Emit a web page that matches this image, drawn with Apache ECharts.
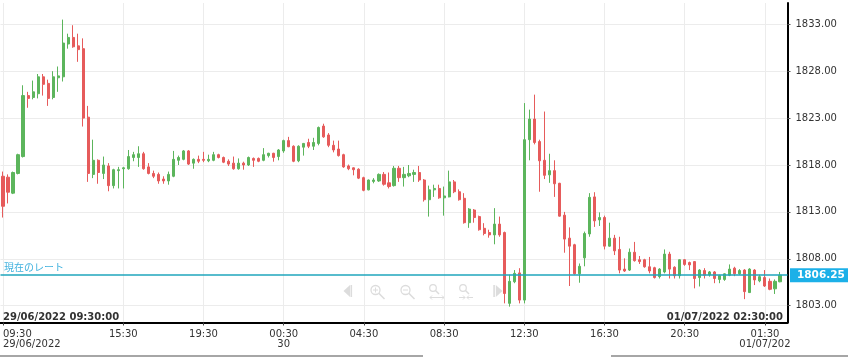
<!DOCTYPE html>
<html><head><meta charset="utf-8">
<script src="https://cdn.jsdelivr.net/npm/echarts@6/dist/echarts.min.js"></script>
<style>html,body{margin:0;padding:0;background:#fff;overflow:hidden}#c{width:848px;height:357px}</style>
</head><body><div id="c"></div>
<script>
// ---- data (15-minute candles, XAU) ----
const opens = [1816.8,1816.7,1815.0,1817.1,1818.9,1825.4,1825.2,1825.6,1827.4,1826.7,1825.2,1827.3,1827.4,1830.9,1831.6,1830.7,1830.4,1823.1,1817.0,1818.5,
1817.1,1817.9,1815.8,1817.4,1817.6,1817.6,1818.8,1818.8,1819.2,1817.8,1817.1,1817.0,1816.5,1816.3,1816.8,1818.5,1818.6,1819.5,1818.2,1818.6,
1818.6,1818.45,1818.5,1819.1,1818.8,1818.4,1818.2,1817.6,1818.2,1818.0,1818.7,1818.7,1818.5,1819.0,1819.25,1818.9,1819.5,1820.6,1820.0,1818.45,
1819.9,1820.4,1820.0,1820.3,1822.15,1821.2,1820.1,1819.7,1819.1,1817.9,1817.7,1817.55,1816.65,1815.35,1816.25,1816.3,1817.0,1816.1,1815.8,1817.65,
1816.65,1816.85,1817.0,1817.2,1816.4,1814.3,1815.35,1815.5,1814.5,1814.6,1816.2,1815.15,1814.45,1811.85,1813.2,1812.5,1811.25,1810.8,1810.55,1811.7,
1810.8,1803.25,1805.55,1806.5,1803.6,1820.7,1822.9,1820.5,1818.5,1816.95,1817.4,1816.05,1812.65,1810.2,1809.5,1806.4,1808.1,1810.65,1814.6,1812.15,
1812.4,1809.35,1810.2,1809.0,1806.9,1806.8,1808.7,1807.9,1807.9,1807.15,1807.05,1806.1,1806.6,1808.5,1807.1,1806.2,1807.9,1807.6,1807.7,1806.0,
1806.75,1806.3,1806.6,1805.8,1805.8,1806.25,1807.0,1806.4,1806.8,1804.4,1806.8,1805.65,1806.0,1805.6,1804.8,1805.55];
const highs = [1817.3,1817.0,1817.3,1819.2,1826.5,1825.8,1827.0,1827.7,1827.7,1827.1,1828.0,1828.5,1833.5,1832.0,1832.9,1832.0,1831.5,1824.3,1820.7,1818.6,
1818.9,1818.2,1817.6,1817.8,1817.8,1819.6,1819.4,1820.0,1819.4,1818.2,1817.4,1817.2,1816.8,1817.3,1819.5,1819.0,1819.6,1819.6,1818.7,1819.0,
1819.4,1819.1,1819.4,1819.2,1818.9,1818.6,1818.9,1818.7,1818.35,1818.9,1818.8,1818.8,1819.8,1819.3,1819.3,1819.7,1820.7,1821.0,1820.1,1820.1,
1820.35,1820.8,1820.9,1822.1,1822.4,1821.4,1820.6,1820.6,1819.2,1818.05,1817.75,1817.65,1816.75,1816.45,1816.6,1817.1,1817.25,1817.2,1817.9,1817.9,
1817.8,1818.0,1817.5,1817.9,1816.5,1815.8,1815.9,1815.9,1815.7,1817.4,1816.4,1815.4,1815.0,1813.4,1813.3,1812.6,1811.8,1811.1,1813.4,1812.5,
1810.9,1806.3,1806.8,1807.0,1824.6,1823.9,1825.5,1820.7,1823.7,1819.2,1818.5,1816.1,1813.0,1811.35,1809.6,1807.5,1810.9,1815.0,1815.1,1812.95,
1812.6,1811.85,1810.55,1810.35,1808.05,1809.1,1809.8,1808.3,1808.0,1808.2,1807.15,1807.0,1809.0,1808.75,1807.2,1807.95,1807.95,1807.7,1807.75,1806.9,
1807.0,1806.7,1806.7,1806.3,1806.45,1807.4,1807.15,1806.9,1806.9,1807.0,1806.9,1806.3,1806.8,1805.9,1805.8,1806.6];
const lows = [1812.4,1813.9,1814.9,1817.0,1818.8,1824.1,1825.0,1825.1,1825.4,1824.3,1825.0,1825.8,1826.9,1830.4,1830.5,1829.0,1822.1,1816.2,1816.6,1816.0,
1816.5,1815.2,1815.5,1815.5,1815.5,1817.5,1818.4,1817.8,1817.5,1817.0,1816.6,1816.0,1816.0,1815.9,1816.7,1818.0,1818.5,1818.0,1817.6,1818.2,
1818.3,1818.3,1818.4,1818.7,1818.2,1817.9,1817.5,1817.5,1817.5,1817.9,1817.8,1818.3,1818.4,1818.8,1818.35,1818.5,1819.3,1819.9,1818.3,1818.3,
1819.0,1819.8,1819.6,1820.1,1820.9,1819.9,1819.35,1818.9,1817.7,1817.45,1816.9,1816.5,1815.2,1815.3,1816.05,1816.2,1815.8,1815.5,1815.7,1816.2,
1815.7,1816.7,1816.2,1816.2,1814.1,1812.5,1814.6,1814.4,1812.6,1814.55,1815.0,1814.2,1811.75,1811.3,1811.85,1811.0,1810.5,1810.25,1809.55,1810.35,
1803.25,1802.9,1805.4,1803.25,1803.25,1818.5,1820.2,1815.15,1816.5,1816.1,1814.6,1812.5,1808.65,1805.1,1806.3,1805.45,1807.2,1810.35,1811.4,1811.5,
1809.0,1809.3,1808.4,1806.45,1806.6,1806.7,1807.7,1807.45,1807.05,1806.45,1805.9,1805.9,1806.45,1805.9,1805.9,1805.9,1807.25,1806.8,1804.85,1805.05,
1805.9,1806.1,1805.4,1805.4,1805.65,1806.15,1806.15,1806.3,1803.7,1804.35,1805.2,1805.5,1805.0,1804.65,1804.25,1805.5];
const closes = [1813.6,1815.1,1817.2,1819.1,1825.4,1825.1,1825.8,1827.4,1826.6,1825.1,1827.4,1827.5,1831.0,1831.6,1830.6,1830.3,1823.0,1817.1,1818.5,1817.2,
1818.0,1815.8,1817.5,1817.5,1817.7,1818.9,1819.1,1819.2,1817.6,1817.1,1816.8,1816.3,1816.3,1817.0,1818.6,1818.8,1819.5,1818.1,1818.6,1818.4,
1818.5,1818.6,1819.1,1818.8,1818.3,1818.1,1817.6,1818.2,1818.0,1818.8,1818.5,1818.4,1819.1,1819.25,1818.8,1819.6,1820.6,1819.95,1818.4,1820.0,
1820.3,1820.0,1820.4,1822.0,1821.0,1820.1,1819.6,1819.0,1817.8,1817.6,1817.5,1816.6,1815.3,1816.4,1816.4,1817.0,1815.95,1815.7,1817.65,1816.65,
1817.0,1817.1,1817.2,1816.4,1814.3,1815.35,1815.5,1814.5,1814.7,1816.2,1815.15,1814.3,1811.85,1813.3,1812.4,1811.1,1810.7,1810.55,1811.7,1810.55,
1804.3,1805.6,1806.45,1803.6,1820.7,1822.9,1820.4,1818.45,1816.9,1817.4,1816.0,1812.55,1810.1,1809.35,1806.4,1807.2,1810.7,1814.55,1812.05,1812.4,
1809.35,1810.2,1808.85,1806.8,1806.7,1808.7,1807.8,1807.7,1807.15,1806.7,1806.0,1806.9,1808.5,1806.9,1806.2,1807.9,1807.4,1807.35,1805.9,1806.8,
1806.25,1806.6,1805.9,1806.2,1806.4,1806.9,1806.4,1806.75,1804.5,1806.9,1805.75,1806.1,1805.1,1804.75,1805.6,1806.25];
const currentRate = 1806.25;
const yTickValues = [1803, 1808, 1813, 1818, 1823, 1828, 1833];
const xTickLabels = [
  ['29/06 09:30', '09:30', '29/06/2022'],
  ['29/06 15:30', '15:30', ''],
  ['29/06 19:30', '19:30', ''],
  ['30/06 00:30', '00:30', '30'],
  ['30/06 04:30', '04:30', ''],
  ['30/06 08:30', '08:30', ''],
  ['30/06 12:30', '12:30', ''],
  ['30/06 16:30', '16:30', ''],
  ['30/06 20:30', '20:30', ''],
  ['01/07 01:30', '01:30', '01/07/202']
];
const rangeStartText = '29/06/2022 09:30:00';
const rangeEndText = '01/07/2022 02:30:00';
const currentRateText = '現在のレート';

// time categories: 15-minute slots, daily break 21:00-22:00 skipped
const categories = [];
(function () {
  let t = Date.UTC(2022, 5, 29, 9, 30);
  const p = n => String(n).padStart(2, '0');
  while (categories.length < 157) {
    const d = new Date(t);
    if (d.getUTCHours() !== 21) {
      categories.push(p(d.getUTCDate()) + '/' + p(d.getUTCMonth() + 1) + ' ' + p(d.getUTCHours()) + ':' + p(d.getUTCMinutes()));
    }
    t += 15 * 60000;
  }
})();
const labelMap = {};
xTickLabels.forEach(r => { labelMap[r[0]] = r[2] ? r[1] + '\n' + r[2] : r[1]; });
const showTick = (idx, val) => Object.prototype.hasOwnProperty.call(labelMap, val);

const candleData = opens.map((o, i) => [o, closes[i], lows[i], highs[i]]);

const UP = '#5cb55c', DOWN = '#e65b5b';
const RATE_LINE = '#1fa6bc';
const ICON = '#dcdcdc';
const FONT = '"DejaVu Sans", Verdana, sans-serif';

const graphics = [
    {type: 'text', left: 3, top: 312, silent: true, z: 100, style: {text: rangeStartText, fill: '#333', font: 'bold 10px ' + FONT}},
    {type: 'text', right: 65, top: 312, silent: true, z: 100, style: {text: rangeEndText, fill: '#333', font: 'bold 10px ' + FONT}},
    {type: 'line', silent: true, shape: {x1: 0, y1: 356, x2: 423, y2: 356}, style: {stroke: '#888', lineWidth: 1.5}},
    {type: 'line', silent: true, shape: {x1: 611, y1: 356, x2: 848, y2: 356}, style: {stroke: '#888', lineWidth: 1.5}},
    // faint navigation icons
    {type: 'polygon', silent: true, shape: {points: [[350, 285], [350, 297], [343.5, 291]]}, style: {fill: ICON}},
    {type: 'rect', silent: true, shape: {x: 350.5, y: 285, width: 1.6, height: 12}, style: {fill: ICON}},
    {type: 'circle', silent: true, shape: {cx: 375.5, cy: 290, r: 4.5}, style: {fill: 'none', stroke: ICON, lineWidth: 1.3}},
    {type: 'line', silent: true, shape: {x1: 378.8, y1: 293.3, x2: 384.5, y2: 299}, style: {stroke: ICON, lineWidth: 1.6}},
    {type: 'line', silent: true, shape: {x1: 373, y1: 290, x2: 378, y2: 290}, style: {stroke: ICON, lineWidth: 1}},
    {type: 'line', silent: true, shape: {x1: 375.5, y1: 287.5, x2: 375.5, y2: 292.5}, style: {stroke: ICON, lineWidth: 1}},
    {type: 'circle', silent: true, shape: {cx: 405.5, cy: 290, r: 4.5}, style: {fill: 'none', stroke: ICON, lineWidth: 1.3}},
    {type: 'line', silent: true, shape: {x1: 408.8, y1: 293.3, x2: 414.5, y2: 299}, style: {stroke: ICON, lineWidth: 1.6}},
    {type: 'line', silent: true, shape: {x1: 403, y1: 290, x2: 408, y2: 290}, style: {stroke: ICON, lineWidth: 1}},
    {type: 'circle', silent: true, shape: {cx: 433, cy: 288, r: 3.3}, style: {fill: 'none', stroke: ICON, lineWidth: 1.2}},
    {type: 'line', silent: true, shape: {x1: 435.5, y1: 290.5, x2: 439, y2: 294}, style: {stroke: ICON, lineWidth: 1.4}},
    {type: 'polyline', silent: true, shape: {points: [[432, 295.5], [430, 297.5], [432, 299.5]]}, style: {stroke: ICON, fill: 'none', lineWidth: 1}},
    {type: 'line', silent: true, shape: {x1: 430, y1: 297.5, x2: 444, y2: 297.5}, style: {stroke: ICON, lineWidth: 1}},
    {type: 'polyline', silent: true, shape: {points: [[442, 295.5], [444, 297.5], [442, 299.5]]}, style: {stroke: ICON, fill: 'none', lineWidth: 1}},
    {type: 'circle', silent: true, shape: {cx: 463, cy: 288, r: 3.3}, style: {fill: 'none', stroke: ICON, lineWidth: 1.2}},
    {type: 'line', silent: true, shape: {x1: 465.5, y1: 290.5, x2: 469, y2: 294}, style: {stroke: ICON, lineWidth: 1.4}},
    {type: 'line', silent: true, shape: {x1: 459, y1: 297.5, x2: 465, y2: 297.5}, style: {stroke: ICON, lineWidth: 1}},
    {type: 'polyline', silent: true, shape: {points: [[463, 295.5], [465, 297.5], [463, 299.5]]}, style: {stroke: ICON, fill: 'none', lineWidth: 1}},
    {type: 'line', silent: true, shape: {x1: 467, y1: 297.5, x2: 473, y2: 297.5}, style: {stroke: ICON, lineWidth: 1}},
    {type: 'polyline', silent: true, shape: {points: [[469, 295.5], [467, 297.5], [469, 299.5]]}, style: {stroke: ICON, fill: 'none', lineWidth: 1}},
    {type: 'rect', silent: true, shape: {x: 493.3, y: 285, width: 1.6, height: 12}, style: {fill: ICON}},
    {type: 'polygon', silent: true, shape: {points: [[495.8, 285], [495.8, 297], [502.5, 291]]}, style: {fill: ICON}}
];

const chart = echarts.init(document.getElementById('c'), null, {renderer: 'canvas'});
chart.setOption({
  animation: false,
  backgroundColor: '#fff',
  grid: {left: -1.5, right: 60.5, top: 3, bottom: 34.5, containLabel: false},
  xAxis: {
    type: 'category',
    data: categories,
    boundaryGap: true,
    axisLine: {show: true, onZero: false, lineStyle: {color: '#000', width: 2}},
    axisTick: {show: true, alignWithLabel: true, interval: showTick, length: 3, lineStyle: {color: '#444'}},
    axisLabel: {
      interval: showTick, formatter: v => labelMap[v] || '',
      color: '#333', fontFamily: FONT, fontSize: 10, lineHeight: 10, margin: 7,
      alignMinLabel: 'left'
    },
    splitLine: {show: true, interval: showTick, alignWithLabel: true, lineStyle: {color: '#ececec', width: 1}}
  },
  yAxis: {
    type: 'value',
    position: 'right',
    scale: true,
    min: 1801.21,
    max: 1835.27,
    axisLine: {show: true, lineStyle: {color: '#000', width: 2}},
    axisTick: {show: true, customValues: yTickValues, length: 3, lineStyle: {color: '#555'}},
    axisLabel: {customValues: yTickValues, formatter: v => v.toFixed(2), color: '#333', fontFamily: FONT, fontSize: 10, margin: 8},
    splitLine: {show: true, lineStyle: {color: '#ececec', width: 1}}
  },
  series: [{
    type: 'candlestick',
    data: candleData,
    barWidth: 2.6,
    itemStyle: {color: UP, color0: DOWN, borderColor: UP, borderColor0: DOWN, borderWidth: 1},
    markLine: {
      silent: true,
      symbol: ['none', 'none'],
      animation: false,
      z: 10,
      lineStyle: {color: RATE_LINE, width: 1.5, type: 'solid', opacity: 1},
      data: [
        {yAxis: currentRate, lineStyle: {color: RATE_LINE, width: 1.5, type: 'solid', opacity: 1},
         label: {show: true, position: 'end', formatter: currentRate.toFixed(2), color: '#fff', backgroundColor: '#1cb0e8', fontFamily: FONT, fontWeight: 'bold', fontSize: 10.5, lineHeight: 10, padding: [2, 5, 2, 7], distance: 2.5}}
      ]
    }
  }],
  graphic: graphics
});
// "現在のレート" caption placed just above the current-rate line
const rateY = chart.convertToPixel({yAxisIndex: 0}, currentRate);
graphics.push({type: 'text', left: 4, top: rateY - 13, silent: true, z: 100,
  style: {text: currentRateText, fill: '#3fb1de', font: '10px "Noto Sans CJK JP", sans-serif'}});
chart.setOption({graphic: graphics});
</script>
</body></html>
